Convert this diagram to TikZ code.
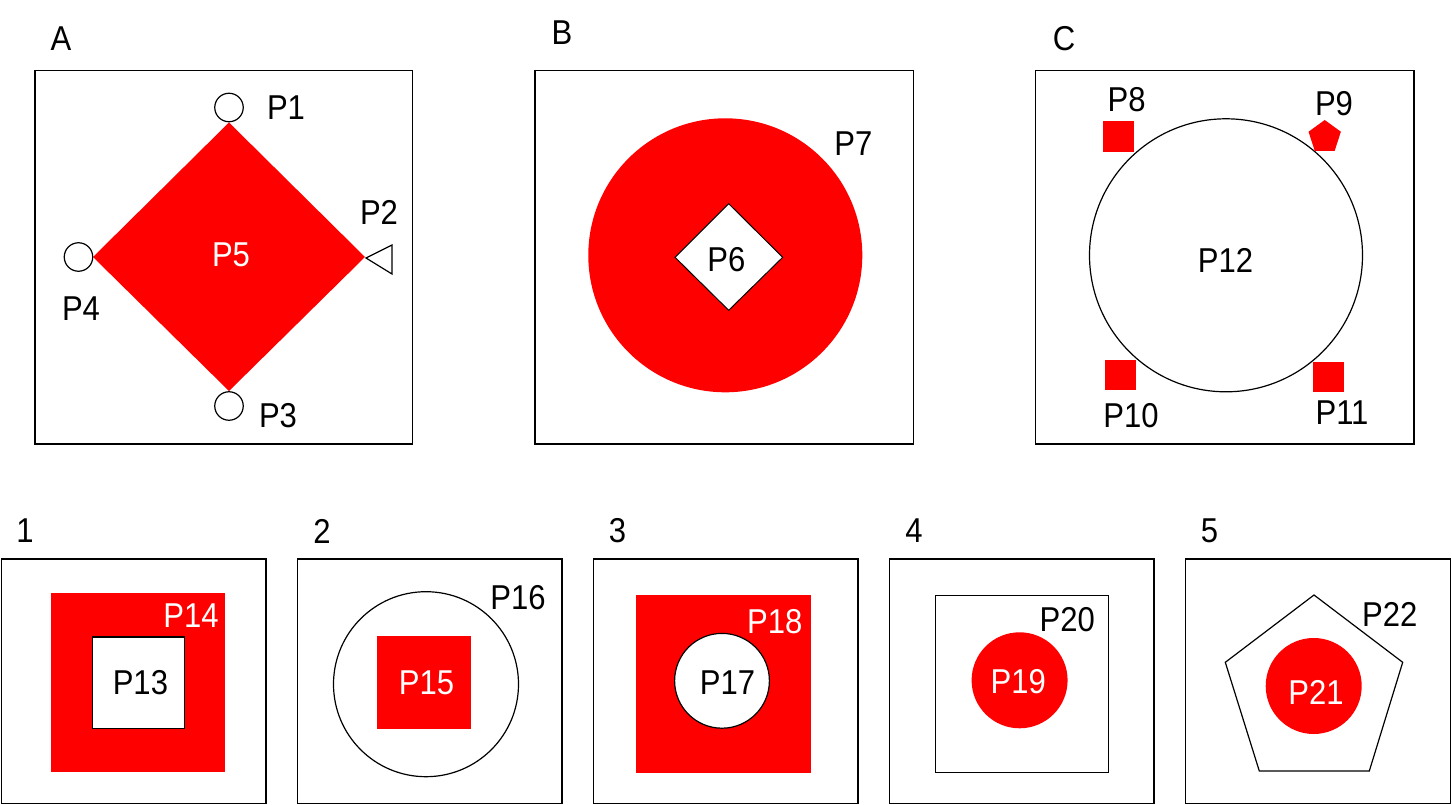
\documentclass[tikz,border=0pt]{standalone}
\usepackage{fontspec}
\setmainfont{Liberation Sans}[FakeStretch=0.9]
\usetikzlibrary{shapes.geometric}
\definecolor{pred}{RGB}{255,0,0}
\begin{document}
\begin{tikzpicture}[x=1pt,y=-1pt,
  lbl/.style={inner sep=0pt, font=\fontsize{34.5}{40}\selectfont},
  wlbl/.style={lbl, text=white},
  frame/.style={draw=black, line width=1.4pt},
  thinline/.style={draw=black, line width=1.2pt},
  ring/.style={circle, thinline, inner sep=0pt, fill=white}]
\useasboundingbox[fill=white] (0,0) rectangle (1452,805);

% ---------- Panel A ----------
\draw[frame] (35,70.5) rectangle (412.5,444);
\fill[pred] (229,122.5) -- (365,257) -- (229,391) -- (93,257) -- cycle;
\node[ring, minimum size=28.5pt] (c1) at (229,107.5) {};
\node[ring, minimum size=28.5pt] (c4) at (78.5,257) {};
\node[ring, minimum size=28.5pt] (c3) at (229,406) {};
\draw[thinline, fill=white] (366,258) -- (392,245) -- (392,274) -- cycle;
\node[lbl] (lA) at (61,39) {A};
\node[lbl] (p1) at (286,108) {P1};
\node[lbl] (p2) at (379,212) {P2};
\node[lbl] (p3) at (278,416) {P3};
\node[lbl] (p4) at (81,309) {P4};
\node[wlbl] (p5) at (231,255) {P5};

% ---------- Panel B ----------
\draw[frame] (535,70.5) rectangle (913.3,444);
\fill[pred] (725.3,255.3) circle[radius=137pt];
\draw[thinline, line width=1pt, fill=white] (728.7,203.7) -- (782.7,257.3) -- (728.7,310.3) -- (675,257.3) -- cycle;
\node[lbl] (lB) at (562,33) {B};
\node[lbl] (p6) at (726.3,259.7) {P6};
\node[lbl] (p7) at (853.3,144) {P7};

% ---------- Panel C ----------
\draw[frame] (1035.7,70.7) rectangle (1414,444);
\node[ring, minimum size=273pt] (c12) at (1226,255.3) {};
\fill[pred] (1103,121) rectangle (1134,152);
\node[regular polygon, regular polygon sides=5, minimum size=34pt, inner sep=0pt, fill=pred] (pg9) at (1324.7,137) {};
\fill[pred] (1105,359.7) rectangle (1135.7,390.3);
\fill[pred] (1313,361.7) rectangle (1344,392.3);
\node[lbl] (lC) at (1064,39) {C};
\node[lbl] (p8) at (1126.7,100) {P8};
\node[lbl] (p9) at (1334,103.5) {P9};
\node[lbl] (p10) at (1131,415.8) {P10};
\node[lbl] (p11) at (1342,412.5) {P11};
\node[lbl] (p12) at (1225.5,260.8) {P12};

% ---------- Bottom frames ----------
\draw[frame] (1.5,559) rectangle (266,803.3);
\draw[frame] (297.5,559) rectangle (562,803.3);
\draw[frame] (593.5,559) rectangle (858,803.3);
\draw[frame] (889.5,559) rectangle (1154,803.3);
\draw[frame] (1185.7,559) rectangle (1450.6,803.3);

% Panel 1
\fill[pred] (51.1,593.3) rectangle (225.2,772.3);
\draw[thinline, fill=white] (92.6,637) rectangle (184.4,728.3);
\node[lbl] (l1) at (25,531) {1};
\node[lbl] (p13) at (140.4,682.8) {P13};
\node[wlbl] (p14) at (191,615.8) {P14};

% Panel 2
\node[ring, minimum size=185pt] (c16) at (426,684.2) {};
\fill[pred] (377,636.3) rectangle (470.7,728.7);
\node[lbl] (l2) at (322,531) {2};
\node[wlbl] (p15) at (426.5,682.8) {P15};
\node[lbl] (p16) at (518,597.8) {P16};

% Panel 3
\fill[pred] (636.3,595) rectangle (810.7,773.3);
\node[ring, minimum size=94.8pt] (c17) at (722,680.8) {};
\node[lbl] (l3) at (617.5,531) {3};
\node[lbl] (p17) at (727.5,682.8) {P17};
\node[wlbl] (p18) at (774.8,621.8) {P18};

% Panel 4
\draw[thinline] (935.2,595.7) rectangle (1108.4,772.7);
\fill[pred] (1019.6,680.3) circle[radius=48pt];
\node[lbl] (l4) at (914,531) {4};
\node[wlbl] (p19) at (1018.3,681.7) {P19};
\node[lbl] (p20) at (1067.2,619.2) {P20};

% Panel 5
\draw[thinline] (1314,595) -- (1402.7,662.3) -- (1369.3,771) -- (1259.3,771) -- (1225.3,662.3) -- cycle;
\fill[pred] (1313.7,686) circle[radius=48pt];
\node[lbl] (l5) at (1209.5,530.5) {5};
\node[wlbl] (p21) at (1316,692) {P21};
\node[lbl] (p22) at (1389.7,614) {P22};
\end{tikzpicture}
\end{document}
